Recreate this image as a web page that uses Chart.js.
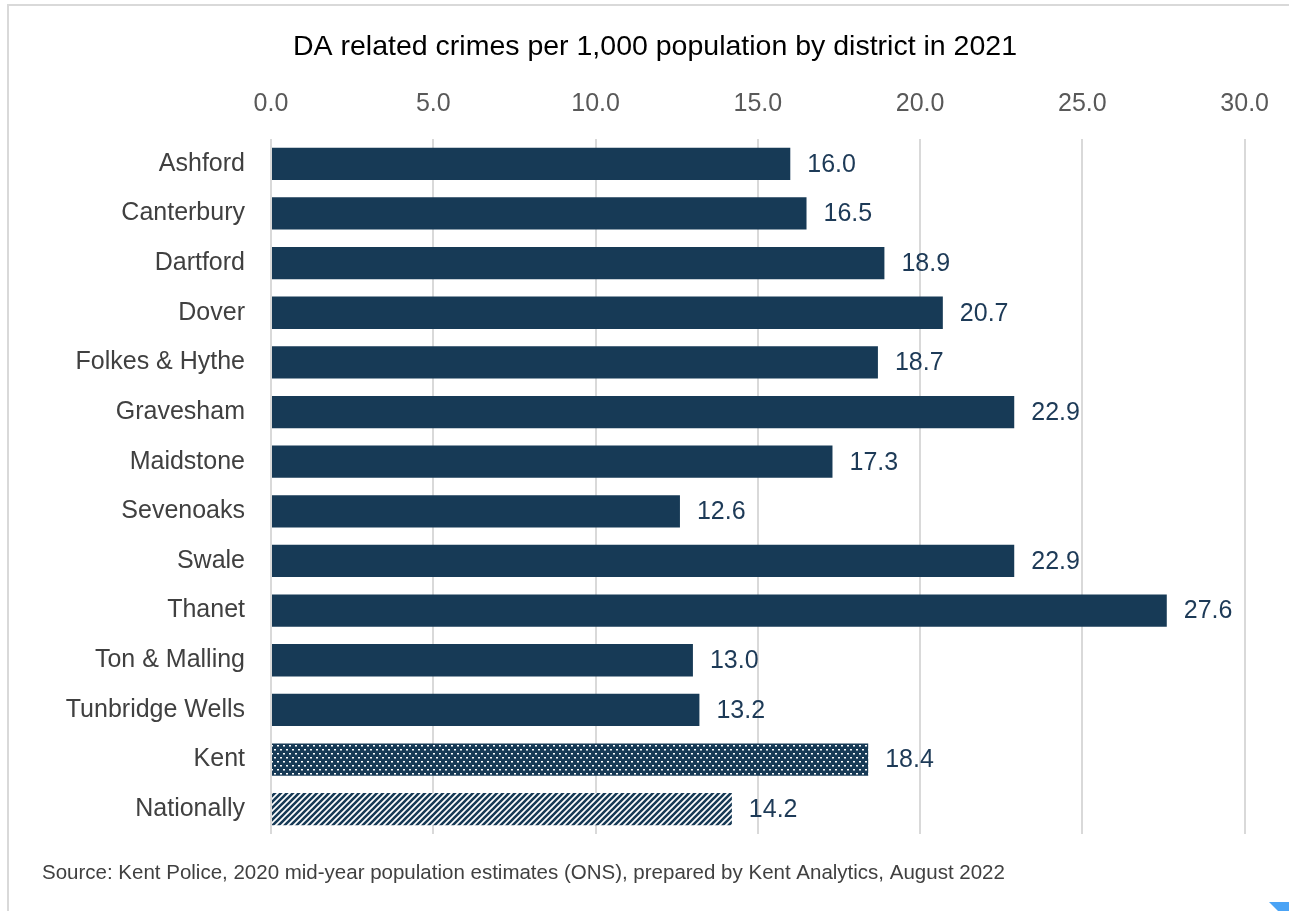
<!DOCTYPE html>
<html>
<head>
<meta charset="utf-8">
<style>
  html, body { margin: 0; padding: 0; background: #ffffff; }
  #wrap { width: 1289px; height: 911px; position: relative; }
</style>
<script src="https://cdn.jsdelivr.net/npm/chart.js@4.4.1/dist/chart.umd.min.js"></script>
</head>
<body>
<div id="wrap"><canvas id="chart" width="1289" height="911"></canvas></div>
<script>
// Domestic abuse related crimes per 1,000 population, 2021
const districts = [
  'Ashford', 'Canterbury', 'Dartford', 'Dover', 'Folkes & Hythe', 'Gravesham',
  'Maidstone', 'Sevenoaks', 'Swale', 'Thanet', 'Ton & Malling', 'Tunbridge Wells',
  'Kent', 'Nationally'
];
const ratePer1000 = [16.0, 16.5, 18.9, 20.7, 18.7, 22.9, 17.3, 12.6, 22.9, 27.6, 13.0, 13.2, 18.4, 14.2];
const axisTicks = [0, 5, 10, 15, 20, 25, 30];

const titleText = 'DA related crimes per 1,000 population by district in 2021';
const sourceText = 'Source: Kent Police, 2020 mid-year population estimates (ONS), prepared by Kent Analytics, August 2022';

const NAVY = '#173a56';

// Dotted fill for the county total
function dotPattern() {
  const c = document.createElement('canvas');
  c.width = 6; c.height = 8;
  const g = c.getContext('2d');
  g.fillStyle = NAVY; g.fillRect(0, 0, 6, 8);
  g.fillStyle = '#ffffff';
  g.fillRect(1, 1, 2, 1.5);
  g.fillRect(4, 5, 2, 1.5);
  return g.createPattern(c, 'repeat');
}
// Diagonal hatch for the national figure
function hatchPattern() {
  const s = 6;
  const c = document.createElement('canvas');
  c.width = s; c.height = s;
  const g = c.getContext('2d');
  g.fillStyle = '#ffffff'; g.fillRect(0, 0, s, s);
  g.strokeStyle = NAVY; g.lineWidth = 2.6;
  g.beginPath();
  g.moveTo(-s, s); g.lineTo(s, -s);
  g.moveTo(0, s * 2); g.lineTo(s * 2, 0);
  g.moveTo(-s, s * 2); g.lineTo(s * 2, -s);
  g.stroke();
  return g.createPattern(c, 'repeat');
}

const fills = districts.map(d => d === 'Kent' ? dotPattern() : d === 'Nationally' ? hatchPattern() : NAVY);

// Frame, heading and footnote
const decor = {
  id: 'decor',
  beforeDraw(chart) {
    const ctx = chart.ctx;
    ctx.save();
    ctx.fillStyle = '#ffffff';
    ctx.fillRect(0, 0, chart.width, chart.height);
    ctx.fillStyle = '#d9d9d9';
    ctx.fillRect(7, 4, chart.width - 7, 2);
    ctx.fillRect(7, 4, 2, chart.height - 4);
    ctx.restore();
  },
  afterDraw(chart) {
    const ctx = chart.ctx;
    ctx.save();
    ctx.fillStyle = '#000000';
    ctx.font = '28.5px "Liberation Sans", Arial, sans-serif';
    ctx.textAlign = 'center';
    ctx.textBaseline = 'middle';
    ctx.fillText(titleText, 655, 47);

    ctx.fillStyle = '#404040';
    ctx.font = '20.5px "Liberation Sans", Arial, sans-serif';
    ctx.textAlign = 'left';
    ctx.fillText(sourceText, 42, 873);

    ctx.fillStyle = '#4aa3f5';
    ctx.beginPath();
    ctx.moveTo(1269, 902); ctx.lineTo(1289, 902); ctx.lineTo(1289, 911); ctx.lineTo(1278, 911);
    ctx.closePath(); ctx.fill();
    ctx.restore();
  }
};

// Value labels to the right of each bar
const valueLabels = {
  id: 'valueLabels',
  afterDatasetsDraw(chart) {
    const ctx = chart.ctx;
    const meta = chart.getDatasetMeta(0);
    ctx.save();
    ctx.fillStyle = '#1d3a57';
    ctx.font = '25px "Liberation Sans", Arial, sans-serif';
    ctx.textAlign = 'left';
    ctx.textBaseline = 'middle';
    meta.data.forEach((bar, i) => {
      ctx.fillText(ratePer1000[i].toFixed(1), bar.x + 17, bar.y + 1);
    });
    ctx.restore();
  }
};

new Chart(document.getElementById('chart'), {
  type: 'bar',
  data: {
    labels: districts,
    datasets: [{
      data: ratePer1000,
      backgroundColor: fills,
      borderWidth: 0,
      categoryPercentage: 1.0,
      barPercentage: 0.65
    }]
  },
  options: {
    indexAxis: 'y',
    responsive: false,
    animation: false,
    layout: { padding: { top: 62, right: 42, bottom: 77, left: 0 } },
    plugins: {
      legend: { display: false },
      title: { display: false },
      tooltip: { enabled: false }
    },
    scales: {
      x: {
        position: 'top',
        min: 0,
        max: 30,
        afterBuildTicks(scale) { scale.ticks = axisTicks.map(v => ({ value: v })); },
        afterFit(scale) { scale.height = 77; },
        border: { display: false },
        grid: { color: '#d9d9d9', lineWidth: 2, drawTicks: false },
        ticks: {
          padding: 20,
          color: '#595959',
          font: { family: '"Liberation Sans", Arial, sans-serif', size: 25 },
          callback: v => Number(v).toFixed(1)
        }
      },
      y: {
        afterFit(scale) { scale.width = 271; },
        border: { display: false },
        grid: { display: false },
        ticks: {
          padding: 18,
          color: '#404040',
          font: { family: '"Liberation Sans", Arial, sans-serif', size: 25 }
        }
      }
    }
  },
  plugins: [decor, valueLabels]
});
</script>
</body>
</html>
